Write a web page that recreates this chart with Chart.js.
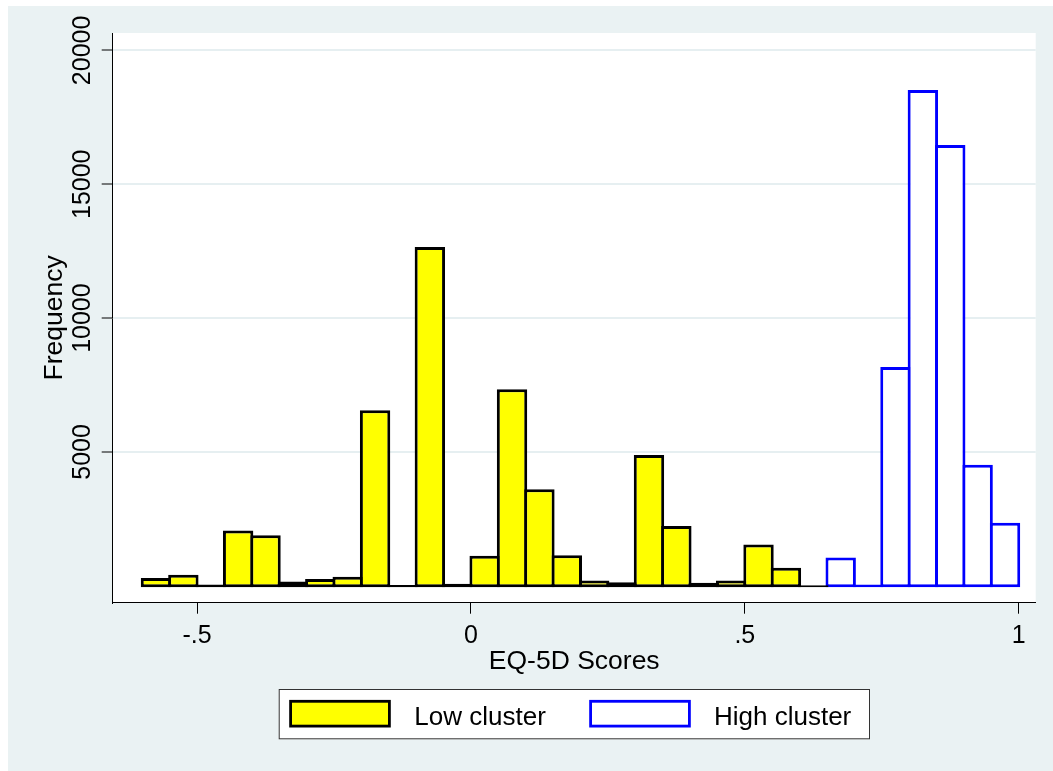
<!DOCTYPE html>
<html>
<head>
<meta charset="utf-8">
<script src="https://cdn.jsdelivr.net/npm/chart.js@4.4.0/dist/chart.umd.min.js"></script>
<style>
  html, body { margin: 0; padding: 0; background: #ffffff; }
  #bg { position: absolute; left: 8px; top: 6px; width: 1045px; height: 765px; background: #EAF2F3; }
  #wrap { position: absolute; left: 0; top: 0; width: 1053px; height: 771px; }
</style>
</head>
<body>
<div id="bg"></div>
<div id="wrap"><canvas id="c" width="1053" height="771"></canvas></div>
<script>
// ---- data ----
const lowBinCenters = [-0.575, -0.525, -0.475, -0.425, -0.375, -0.325, -0.275, -0.225, -0.175, -0.125,
                       -0.075, -0.025, 0.025, 0.075, 0.125, 0.175, 0.225, 0.275, 0.325, 0.375,
                       0.425, 0.475, 0.525, 0.575, 0.625];
const lowCounts = [290, 410, 50, 2070, 1890, 160, 250, 335, 6560, 30,
                   12660, 80, 1120, 7340, 3610, 1145, 200, 130, 4890, 2230,
                   110, 200, 1545, 670, 25];
const highBinCenters = [0.675, 0.725, 0.775, 0.825, 0.875, 0.925, 0.975];
const highCounts = [1060, 50, 8170, 18520, 16470, 4520, 2360];

const seriesNames = ['Low cluster', 'High cluster'];
const xTickValues = [-0.5, 0, 0.5, 1];
const xTickLabels = ['-.5', '0', '.5', '1'];
const yTickValues = [5000, 10000, 15000, 20000];
const yTickLabels = ['5000', '10000', '15000', '20000'];
const xTitle = 'EQ-5D Scores';
const yTitle = 'Frequency';

// ---- styling / layout ----
const FONT = '"Liberation Sans", Arial, Helvetica, sans-serif';
const W = 1053, H = 771;
const AREA = { left: 112.7, top: 33, right: 1035.7, bottom: 602.7 };

const toPoints = (xs, ys) => xs.map((x, i) => ({ x: x, y: ys[i] }));

const decor = {
  id: 'decor',
  beforeDraw(chart) {
    const { ctx, chartArea: a } = chart;
    ctx.save();
    ctx.fillStyle = '#ffffff';
    ctx.fillRect(a.left, a.top, a.right - a.left, a.bottom - a.top);
    ctx.restore();
  },
  afterDraw(chart) {
    const { ctx, chartArea: a, scales } = chart;
    const xs = scales.x, ys = scales.y;
    ctx.save();
    ctx.fillStyle = '#000000';

    // y tick labels (rotated)
    ctx.font = '25px ' + FONT;
    ctx.textAlign = 'center';
    ctx.textBaseline = 'alphabetic';
    yTickValues.forEach((v, i) => {
      const py = ys.getPixelForValue(v);
      ctx.save();
      ctx.translate(90, py);
      ctx.rotate(-Math.PI / 2);
      ctx.fillText(yTickLabels[i], 0, 0);
      ctx.restore();
    });

    // x tick labels
    xTickValues.forEach((v, i) => {
      const px = xs.getPixelForValue(v);
      ctx.fillText(xTickLabels[i], px, 643.3);
    });

    // axis titles
    ctx.font = '26.5px ' + FONT;
    ctx.fillText(xTitle, (a.left + a.right) / 2, 669.3);
    ctx.save();
    ctx.translate(62, (a.top + a.bottom) / 2);
    ctx.rotate(-Math.PI / 2);
    ctx.fillText(yTitle, 0, 0);
    ctx.restore();

    // legend
    ctx.fillStyle = '#ffffff';
    ctx.fillRect(278.7, 689, 591.3, 50.3);
    ctx.strokeStyle = '#333333';
    ctx.lineWidth = 1;
    ctx.strokeRect(279.2, 689.5, 590.3, 49.3);

    const ds = chart.data.datasets;
    const sw = [{ x: 290.6, tx: 414.3 }, { x: 590.6, tx: 714 }];
    ds.forEach((d, i) => {
      ctx.fillStyle = d.backgroundColor;
      ctx.fillRect(sw[i].x, 701.3, 98.8, 24.8);
      ctx.strokeStyle = d.borderColor;
      ctx.lineWidth = 2.8;
      ctx.strokeRect(sw[i].x, 701.3, 98.8, 24.8);
      ctx.fillStyle = '#000000';
      ctx.font = '26px ' + FONT;
      ctx.textAlign = 'left';
      ctx.fillText(d.label, sw[i].tx, 725);
    });
    ctx.restore();
  }
};

const barCommon = {
  borderWidth: 3,
  borderSkipped: false,
  grouped: false,
  barPercentage: 1.11,
  categoryPercentage: 1,
  base: -55
};

new Chart(document.getElementById('c'), {
  type: 'bar',
  data: {
    datasets: [
      Object.assign({
        label: seriesNames[0],
        data: toPoints(lowBinCenters, lowCounts),
        backgroundColor: '#FFFF00',
        borderColor: '#000000'
      }, barCommon),
      Object.assign({
        label: seriesNames[1],
        data: toPoints(highBinCenters, highCounts),
        backgroundColor: '#FFFFFF',
        borderColor: '#0000FF'
      }, barCommon)
    ]
  },
  options: {
    responsive: false,
    animation: false,
    devicePixelRatio: 1,
    layout: { padding: { top: AREA.top, right: W - AREA.right, left: 0, bottom: 0 } },
    plugins: { legend: { display: false }, tooltip: { enabled: false } },
    scales: {
      x: {
        type: 'linear',
        offset: false,
        min: -0.654,
        max: 1.031,
        afterBuildTicks: s => { s.ticks = xTickValues.map(v => ({ value: v })); },
        afterFit: s => { s.height = H - AREA.bottom; },
        ticks: { display: false },
        grid: { display: true, offset: false, drawOnChartArea: false, drawTicks: true, tickLength: 11,
                tickColor: '#000000', tickWidth: 1, color: 'rgba(0,0,0,0)' },
        border: { display: true, color: '#000000', width: 1 }
      },
      y: {
        type: 'linear',
        min: -631,
        max: 20650,
        afterBuildTicks: s => { s.ticks = yTickValues.map(v => ({ value: v })); },
        afterFit: s => { s.width = AREA.left; },
        ticks: { display: false },
        grid: { display: true, drawOnChartArea: true, drawTicks: true, tickLength: 11,
                tickColor: '#000000', tickWidth: 1, color: '#E6EFF1', lineWidth: 2 },
        border: { display: true, color: '#000000', width: 1 }
      }
    }
  },
  plugins: [decor]
});
</script>
</body>
</html>
